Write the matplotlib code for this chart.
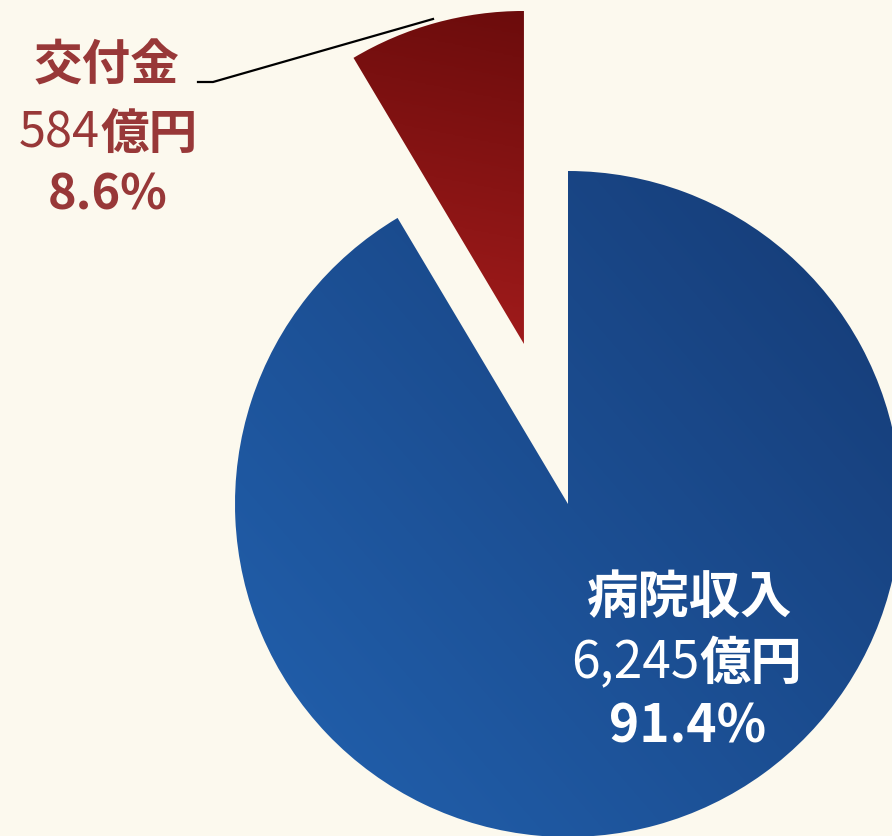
import matplotlib.pyplot as plt
import numpy as np
from matplotlib.colors import LinearSegmentedColormap

plt.rcParams['font.family'] = ['Noto Sans CJK JP', 'DejaVu Sans']

# data
labels = ['病院収入', '交付金']
amounts = [6245, 584]          # 億円
shares = ['91.4%', '8.6%']

bg = '#fcf9ee'
red_text = '#983838'

W, H = 892, 837
fig = plt.figure(figsize=(W / 100, H / 100), dpi=100, facecolor=bg)
ax = fig.add_axes([0, 0, 1, 1])
ax.set_facecolor(bg)

R = 333
wedges, _ = ax.pie(amounts, startangle=90, counterclock=False, radius=R,
                   center=(568, H - 505), explode=[0, 166],
                   wedgeprops=dict(linewidth=0))
ax.set_xlim(0, W)
ax.set_ylim(0, H)
ax.set_aspect('equal')
ax.axis('off')


def gradient_fill(wedge, c_from, c_to, direction):
    # linear gradient over the wedge's bounding box, clipped to the wedge
    bb = wedge.get_path().get_extents(wedge.get_patch_transform())
    x0, y0, x1, y1 = bb.x0, bb.y0, bb.x1, bb.y1
    yy, xx = np.mgrid[y0:y1:200j, x0:x1:200j]
    dx, dy = direction
    t = xx * dx + yy * dy
    t = (t - t.min()) / (t.max() - t.min())
    cmap = LinearSegmentedColormap.from_list('g', [c_from, c_to])
    wedge.set_facecolor('none')
    im = ax.imshow(t, cmap=cmap, extent=(x0, x1, y0, y1), origin='lower',
                   interpolation='bilinear', zorder=1, aspect='auto')
    im.set_clip_path(wedge)


gradient_fill(wedges[0], '#2262b0', '#153a74', (0.75, 0.65))
gradient_fill(wedges[1], '#a41c1c', '#6c0c0c', (0.2, 1.0))
ax.set_xlim(0, W)
ax.set_ylim(0, H)

# leader line for the small slice
ax.plot([198, 213, 433], [H - 83, H - 83, H - 20], color='black', lw=1.6, zorder=3)

# 交付金 label
fs = 35
ax.text(106, H - 66, labels[1], color=red_text, fontsize=fs, fontweight='bold',
        ha='center', va='center', zorder=4)
ax.text(100, H - 134, f'{amounts[1]:,}', color=red_text, fontsize=fs,
        fontweight='normal', ha='right', va='center', zorder=4)
ax.text(100, H - 134, '億円', color=red_text, fontsize=fs, fontweight='bold',
        ha='left', va='center', zorder=4)
ax.text(108, H - 195, shares[1], color=red_text, fontsize=fs, fontweight='bold',
        ha='center', va='center', zorder=4)

# 病院収入 label
fb = 37
ax.text(690, H - 597, labels[0], color='white', fontsize=fb, fontweight='bold',
        ha='center', va='center', zorder=4)
ax.text(699, H - 663, f'{amounts[0]:,}', color='white', fontsize=fb,
        fontweight='normal', ha='right', va='center', zorder=4)
ax.text(699, H - 663, '億円', color='white', fontsize=fb, fontweight='bold',
        ha='left', va='center', zorder=4)
ax.text(688, H - 727, shares[0], color='white', fontsize=fb, fontweight='bold',
        ha='center', va='center', zorder=4)

fig.savefig('out.png', dpi=100, facecolor=bg)
